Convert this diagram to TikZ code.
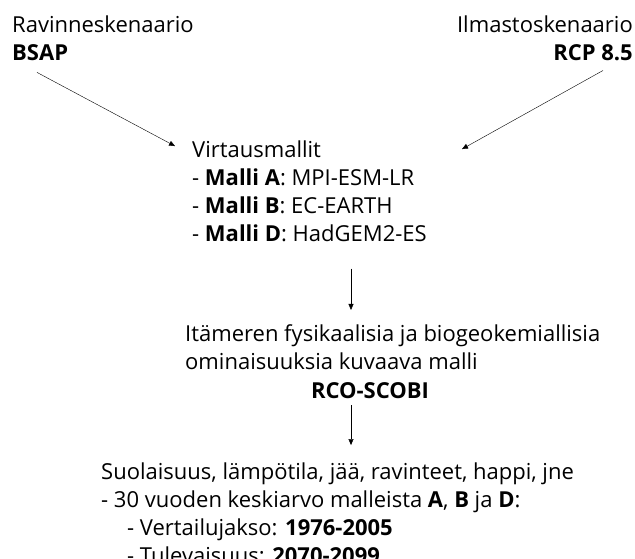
\documentclass[tikz,border=0pt]{standalone}
\usepackage{fontspec}
\setmainfont{Open Sans}
\usetikzlibrary{arrows.meta}
\begin{document}
\begin{tikzpicture}[x=1pt,y=-1pt,
  txt/.style={inner sep=0pt,align=left,font=\fontsize{22}{28}\selectfont},
  flow/.style={-{Triangle[length=6pt,width=5pt]},thin}]
\useasboundingbox (0,0) rectangle (635,558);
\node[txt,anchor=base west] (rav) at (12,60) {Ravinneskenaario\\\textbf{BSAP}};
\node[txt,anchor=base east,align=right] (ilm) at (633,60) {Ilmastoskenaario\\\textbf{RCP 8.5}};
\node[txt,anchor=base west] (virt) at (192,241) {Virtausmallit\\- \textbf{Malli A}: MPI-ESM-LR\\- \textbf{Malli B}: EC-EARTH\\- \textbf{Malli D}: HadGEM2-ES};
\node[txt,anchor=base west] (ita) at (185,369) {Itämeren fysikaalisia ja biogeokemiallisia\\ominaisuuksia kuvaava malli};
\node[txt,anchor=base] (rco) at (370,398) {\textbf{RCO-SCOBI}};
\node[txt,anchor=base west] (out) at (101,563) {Suolaisuus, lämpötila, jää, ravinteet, happi, jne\\- 30 vuoden keskiarvo malleista \textbf{A}, \textbf{B} ja \textbf{D}:\\\hspace*{26pt}- Vertailujakso: \textbf{1976-2005}\\\hspace*{26pt}- Tulevaisuus: \textbf{2070-2099}};
\coordinate (col) at (351,0);
\draw[flow] ([xshift=25pt,yshift=-12pt]rav.south west) -- ([xshift=-17pt,yshift=-6pt]virt.north west);
\draw[flow] ([xshift=-30pt,yshift=-10pt]ilm.south east) -- ([xshift=270pt,yshift=-9pt]virt.north west);
\draw[flow] ([yshift=-27pt]virt.south -| col) -- ([yshift=14pt]ita.north -| col);
\draw[flow] ([yshift=-7pt]rco.south -| col) -- ([yshift=17pt]out.north -| col);
\end{tikzpicture}
\end{document}
